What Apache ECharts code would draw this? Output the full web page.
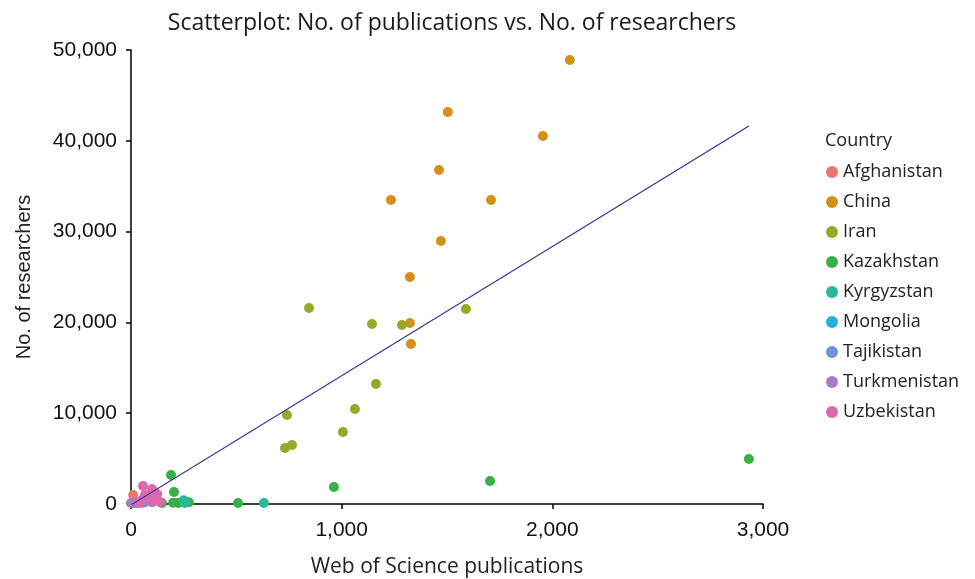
<!DOCTYPE html>
<html><head><meta charset="utf-8">
<script src="https://cdn.jsdelivr.net/npm/echarts@6/dist/echarts.min.js"></script>
<style>html,body{margin:0;padding:0;background:#fff}#c{width:975px;height:579px}</style>
</head><body><div id="c"></div>
<script>
const countries = ["Afghanistan","China","Iran","Kazakhstan","Kyrgyzstan","Mongolia","Tajikistan","Turkmenistan","Uzbekistan"];
const colors = ["#EE766B","#D4911A","#96A928","#38B048","#2DB79A","#22B3DD","#6B98D3","#A87CC0","#DD68AC"];
const afghanistan = [[10,990],[20,150]];
const china = [[2083,48900],[1504,43170],[1955,40530],[1462,36780],[1234,33480],[1709,33480],[1471,28960],[1324,25000],[1324,19930],[1329,17620]];
const iran = [[845,21590],[1144,19820],[1286,19710],[1590,21480],[1163,13220],[1063,10460],[740,9800],[1006,7930],[764,6500],[731,6170]];
const kazakhstan = [[2933,4960],[1704,2530],[963,1870],[190,3190],[204,1320],[508,110],[223,110],[147,110],[200,150],[275,200]];
const kyrgyzstan = [[631,110],[250,400],[255,110],[260,250]];
const mongolia = [[114,440],[100,200]];
const tajikistan = [[28,110],[60,150]];
const turkmenistan = [[0,110],[15,100]];
const uzbekistan = [[57,1980],[100,1650],[124,1100],[66,990],[138,220],[100,220],[43,110],[52,440],[80,700],[110,600]];
const fitLine = [[0,-100],[2933,41630]];
const seriesData = [afghanistan,china,iran,kazakhstan,kyrgyzstan,mongolia,tajikistan,turkmenistan,uzbekistan];

const font = "Open Sans";
const tickFont = "Liberation Sans";
const chart = echarts.init(document.getElementById('c'));
const series = countries.map((name,i)=>({
  name, type:'scatter', data: seriesData[i], symbolSize: 10,
  itemStyle:{color: colors[i], opacity:1}, z: 3
}));
series.push({
  name:'fit', type:'line', data: fitLine, symbol:'none', silent:true,
  lineStyle:{color:'#2B3592', width:1.2}, z: 4
});
chart.setOption({
  animation:false,
  textStyle:{fontFamily:font},
  title:[
    {text:'Scatterplot: No. of publications vs. No. of researchers', left:447, top:7, textAlign:'center',
     textStyle:{fontFamily:font, fontSize:23, fontWeight:'normal', color:'#1a1a1a'}},
    {text:'Country', left:825, top:132, padding:0, textStyle:{fontFamily:font, fontSize:18, fontWeight:'normal', color:'#222'}}
  ],
  grid:{left:131, right:212, top:50, bottom:75, containLabel:false, outerBoundsMode:'none'},
  legend:{
    data: countries, orient:'vertical', left:821, top:158, icon:'circle', itemWidth:12, itemHeight:12,
    itemGap:12, textStyle:{fontFamily:font, fontSize:18, color:'#222', padding:[0,0,0,0]}
  },
  xAxis:{
    type:'value', min:0, max:3000, interval:1000,
    name:'Web of Science publications', nameLocation:'middle', nameGap:53,
    nameTextStyle:{fontFamily:font, fontSize:21, color:'#222'},
    axisLine:{show:true, onZero:false, lineStyle:{color:'#000', width:1.5}},
    axisTick:{show:true, length:5, lineStyle:{color:'#000', width:1.5}},
    axisLabel:{fontFamily:tickFont, fontSize:21, color:'#111', margin:16,
      formatter:v=>v.toLocaleString('en-US')},
    splitLine:{show:false}
  },
  yAxis:{
    type:'value', min:0, max:50000, interval:10000,
    name:'No. of researchers', nameLocation:'middle', nameGap:97,
    nameTextStyle:{fontFamily:tickFont, fontSize:20, color:'#222'},
    axisLine:{show:true, onZero:false, lineStyle:{color:'#000', width:1.5}},
    axisTick:{show:true, length:5, lineStyle:{color:'#000', width:1.5}},
    axisLabel:{fontFamily:tickFont, fontSize:21, color:'#111', margin:14,
      formatter:v=>v.toLocaleString('en-US')},
    splitLine:{show:false}
  },
  series
});
</script></body></html>
